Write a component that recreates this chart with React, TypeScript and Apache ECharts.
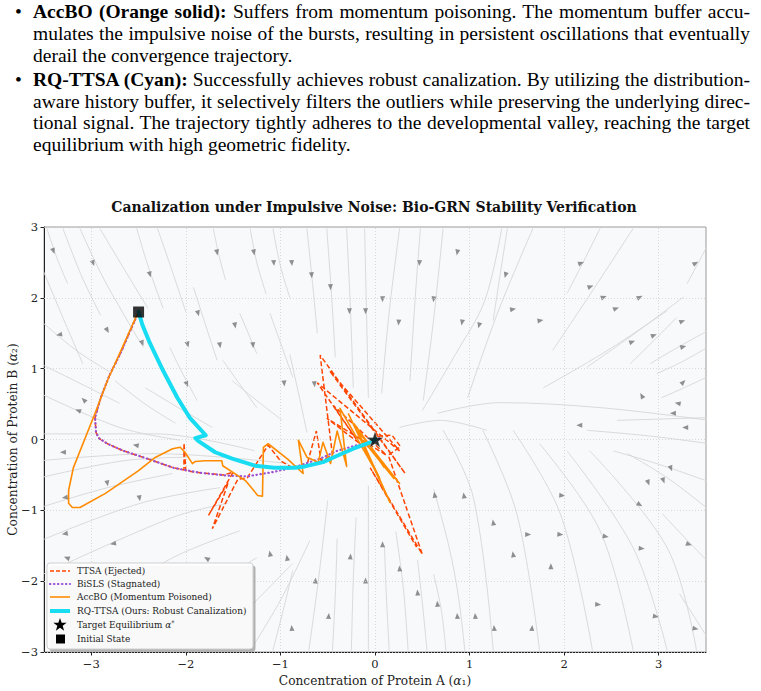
import React, { useEffect, useLayoutEffect, useRef } from "react";
import * as echarts from "echarts";

// ---- axes ----
const X_TICKS = [-3, -2, -1, 0, 1, 2, 3];
const Y_TICKS = [-3, -2, -1, 0, 1, 2, 3];
const X_RANGE = [-3.5, 3.5];
const Y_RANGE = [-3, 3];

// ---- markers ----
const INITIAL_STATE = [-2.5, 1.8];
const TARGET = [0, 0];

// ---- optimiser trajectories (alpha1, alpha2) ----
const TTSA = [
  [-2.5, 1.8], [-2.6, 1.5], [-2.69, 1.22], [-2.81, 0.9], [-2.9, 0.59], [-2.96, 0.31], [-2.95, 0.1],
  [-2.92, 0.02], [-2.83, -0.06], [-2.66, -0.16], [-2.41, -0.27], [-2.13, -0.4], [-2.02, -0.43],
  [-2.02, -0.05], [-2.0, -0.44], [-1.85, -0.47], [-1.6, -0.5], [-1.5, -0.46], [-1.76, -1.07],
  [-1.55, -0.6], [-1.72, -1.26], [-1.45, -0.56], [-1.35, -0.54], [-1.13, -0.08], [-1.0, -0.3],
  [-0.87, -0.4], [-0.72, -0.36], [-0.62, 0.12], [-0.57, -0.3], [-0.45, -0.22], [-0.58, 1.19],
  [0.32, -0.48], [-0.48, 0.97], [0.26, -0.16], [-0.61, 0.8], [-0.19, -0.01], [-0.44, 0.48],
  [0.12, -0.22], [-0.51, 0.3], [-0.1, -0.12], [0.05, 0.05], [0.18, 0.06], [0.27, -0.1],
  [0.14, -0.22], [0.5, -1.62], [-0.05, -0.4], [0.44, -1.52],
];

const BISLS = [
  [-2.5, 1.8], [-2.6, 1.5], [-2.69, 1.22], [-2.81, 0.9], [-2.9, 0.59], [-2.96, 0.31], [-2.95, 0.1],
  [-2.92, 0.02], [-2.83, -0.06], [-2.66, -0.16], [-2.41, -0.27], [-2.13, -0.4], [-1.85, -0.47],
  [-1.56, -0.51], [-1.35, -0.52], [-1.08, -0.46], [-0.87, -0.4], [-0.58, -0.27], [-0.4, -0.16],
  [-0.19, -0.08], [0, 0], [0.08, 0.03],
];

const ACCBO = [
  [-2.5, 1.8], [-2.53, 1.72], [-2.83, 0.83], [-2.96, 0.37], [-3.19, -0.4], [-3.24, -0.72],
  [-3.24, -0.9], [-3.2, -0.96], [-3.12, -0.96], [-2.85, -0.76], [-2.5, -0.44], [-2.32, -0.25],
  [-2.14, -0.13], [-2.06, -0.11], [-2.01, -0.18], [-1.93, -0.34], [-1.9, -0.31], [-1.8, -0.3],
  [-1.62, -0.3], [-1.61, -0.37], [-1.37, -0.58], [-1.24, -0.79], [-1.19, -0.8], [-1.18, -0.11],
  [-1.13, -0.06], [-0.92, -0.28], [-0.76, -0.48], [-0.81, -0.01], [-0.72, -0.25], [-0.6, -0.32],
  [-0.55, -0.04], [-0.47, -0.34], [-0.4, 0.12], [-0.3, -0.38], [-0.37, 0.44], [0.05, -0.55],
  [-0.28, 0.36], [0.16, -0.89], [-0.18, 0.12], [0.26, -0.62], [-0.12, -0.02], [0.2, -0.55],
  [-0.22, 0.22], [0.1, -0.4],
];

const RQ_TTSA = [
  [-2.5, 1.8], [-2.46, 1.62], [-2.38, 1.36], [-2.24, 0.97], [-2.09, 0.59], [-1.96, 0.31],
  [-1.79, 0.06], [-1.9, 0.02], [-1.87, -0.02], [-1.69, -0.18], [-1.51, -0.27], [-1.27, -0.37],
  [-1.06, -0.4], [-0.85, -0.4], [-0.74, -0.38], [-0.55, -0.32], [-0.4, -0.23], [-0.23, -0.13],
  [-0.05, -0.04], [0, 0],
];

// ---- background flow field: streamlines and their direction arrows ----
const STREAMLINES = [
  [[-3.47, 2.98], [-3.36, 2.55], [-3.25, 2.2]],
  [[-3.3, 2.98], [-3.1, 2.3], [-2.9, 1.75]],
  [[-3.12, 2.98], [-2.9, 2.35], [-2.65, 1.75], [-2.45, 1.3]],
  [[-2.91, 2.98], [-2.65, 2.4], [-2.4, 1.85]],
  [[-2.52, 2.98], [-2.4, 2.45], [-2.24, 1.85]],
  [[-2.3, 2.98], [-2.15, 2.4], [-2.0, 1.8]],
  [[-1.92, 2.15], [-1.8, 1.65], [-1.67, 1.12]],
  [[-1.71, 2.98], [-1.65, 2.6], [-1.58, 2.25]],
  [[-1.32, 2.98], [-1.25, 2.5], [-1.15, 2.05]],
  [[-1.08, 2.98], [-1.0, 2.45], [-0.9, 2.0]],
  [[-3.51, 2.39], [-3.3, 1.72], [-3.09, 1.07]],
  [[-3.54, 1.68], [-3.15, 1.25], [-2.8, 0.95]],
  [[-3.54, 1.07], [-3.1, 0.78], [-2.7, 0.51]],
  [[-3.54, 0.65], [-2.7, 0.17], [-2.06, -0.01]],
  [[-3.54, 0.08], [-2.33, 0.08], [-1.27, -0.16]],
  [[-3.54, -0.3], [-2.33, -0.2], [-0.92, -0.34]],
  [[-2.75, 0.83], [-2.43, 0.5], [-2.11, 0.23]],
  [[-2.43, 0.73], [-2.08, 0.45], [-1.72, 0.17]],
  [[-2.17, 1.3], [-2.03, 0.92], [-1.88, 0.55]],
  [[-1.61, 1.12], [-1.43, 0.78], [-1.25, 0.45]],
  [[-1.43, 1.78], [-1.34, 1.5], [-1.25, 1.21]],
  [[-1.11, 1.78], [-0.99, 1.33], [-0.87, 0.88]],
  [[-1.51, 0.83], [-1.25, 0.55], [-0.98, 0.27]],
  [[-0.72, 2.98], [-0.66, 2.2], [-0.61, 1.5]],
  [[-0.51, 2.98], [-0.46, 2.05], [-0.42, 1.16]],
  [[-0.3, 2.98], [-0.26, 1.85], [-0.23, 0.73]],
  [[-0.11, 2.98], [-0.09, 1.8], [-0.07, 0.59]],
  [[0.26, 2.98], [0.15, 1.8], [0.07, 0.65]],
  [[0.48, 2.98], [0.42, 1.9], [0.37, 0.83]],
  [[0.72, 2.98], [0.62, 1.7], [0.51, 0.55]],
  [[-0.9, 1.2], [-0.8, 0.6], [-0.72, 0.1]],
  [[0.5, 0.41], [0.85, 1.2], [1.16, 1.96], [1.34, 2.98]],
  [[0.98, 0.59], [1.3, 1.8], [1.67, 2.98]],
  [[1.4, 2.98], [1.32, 2.3], [1.25, 1.68]],
  [[1.88, 1.26], [2.3, 2.1], [2.73, 2.98]],
  [[2.03, 2.06], [2.2, 2.5], [2.38, 2.98]],
  [[1.78, 0.73], [2.45, 1.25], [3.09, 1.82]],
  [[2.24, 1.02], [2.75, 1.5], [3.26, 2.01]],
  [[3.3, 2.2], [3.4, 2.45], [3.54, 2.8]],
  [[2.7, 1.07], [2.95, 1.4], [3.19, 1.72]],
  [[2.91, 1.07], [3.2, 1.3], [3.54, 1.55]],
  [[2.98, 0.93], [3.25, 1.1], [3.54, 1.32]],
  [[3.03, 0.59], [3.25, 0.72], [3.54, 0.9]],
  [[0.66, 0.37], [1.32, 0.52], [2.38, 0.45], [3.54, 0.27]],
  [[0.26, 0.17], [0.69, 0.27], [1.18, 0.13]],
  [[2.56, 0.27], [3.54, 0.31]],
  [[2.24, 0.13], [2.9, 0.05], [3.54, -0.06]],
  [[2.52, -0.16], [3.0, -0.35], [3.54, -0.6]],
  [[2.67, -0.2], [3.1, -0.55], [3.54, -1.0]],
  [[0.72, 0.13], [1.04, -0.82], [1.25, -2.98]],
  [[1.14, 0.13], [1.5, -1.05], [1.74, -2.98]],
  [[1.46, 0.13], [1.96, -1.05], [2.3, -2.98]],
  [[1.74, -0.06], [2.38, -1.29], [2.73, -2.98]],
  [[2.03, -0.16], [2.73, -1.53], [3.09, -2.98]],
  [[2.27, -0.16], [3.09, -1.53], [3.4, -2.98]],
  [[3.04, -1.05], [3.25, -1.35], [3.54, -1.75]],
  [[3.22, -2.18], [3.35, -2.45], [3.54, -2.85]],
  [[-0.7, -2.98], [-0.6, -2.0], [-0.5, -0.86]],
  [[-0.45, -2.98], [-0.42, -2.2], [-0.4, -1.4]],
  [[-0.25, -2.98], [-0.23, -2.0], [-0.2, -1.1]],
  [[-0.07, -2.98], [-0.07, -1.9], [-0.07, -0.65]],
  [[0.15, -2.98], [0.12, -2.2], [0.1, -1.5]],
  [[0.35, -2.98], [0.3, -2.1], [0.22, -1.3]],
  [[0.55, -2.98], [0.5, -2.3], [0.45, -1.7]],
  [[0.75, -2.98], [0.7, -2.4], [0.62, -1.9]],
  [[0.95, -2.98], [0.88, -2.2], [0.78, -1.5], [0.62, -0.7]],
  [[-1.08, -2.98], [-0.95, -2.3], [-0.87, -1.85]],
  [[-3.54, -0.54], [-2.66, -0.3], [-1.99, -0.25]],
  [[-3.54, -0.96], [-2.83, -0.68], [-2.14, -0.48]],
  [[-3.54, -1.43], [-2.48, -0.9], [-1.64, -0.68]],
  [[-3.54, -1.92], [-2.14, -1.1], [-1.56, -0.9]],
  [[-3.19, -2.51], [-2.14, -1.67], [-1.43, -1.29]],
  [[-2.48, -2.98], [-1.78, -2.13], [-1.25, -1.67]],
  [[-1.78, -2.98], [-1.29, -2.32], [-0.87, -1.75]],
  [[-1.32, -2.98], [-1.0, -2.27], [-0.69, -1.43]],
];

// [alpha1, alpha2, heading in degrees counter-clockwise from "up"]
const FLOW_ARROWS = [
  [-3.4, 2.66, 200], [-2.98, 2.49, 200], [-2.38, 2.33, 195], [-1.67, 2.64, 190], [-1.28, 2.64, 190],
  [-1.07, 2.49, 185], [-0.88, 2.49, 185], [-1.87, 1.78, 195], [-1.48, 1.61, 190], [-2.83, 1.54, 210],
  [-3.34, 1.48, 100], [-2.46, 1.36, 200], [-1.98, 1.34, 195], [-1.64, 1.33, 190], [-1.29, 1.33, 185],
  [-1.99, 0.78, 200], [-0.96, 0.79, 185], [-3.08, 0.56, 45], [-3.14, 0.41, 70], [-2.53, -0.08, 80],
  [-3.3, -0.18, 90], [-2.83, -0.62, 190], [-3.28, -0.82, 100], [-2.49, -0.83, 190],
  [-3.28, -1.33, 100], [-2.77, -1.47, 100], [-3.26, -1.67, 70], [-1.78, -1.68, 60],
  [-1.11, -1.61, 10], [-0.93, -1.67, 10], [-0.88, -2.66, 5],
  [-0.67, 2.32, 185], [-0.47, 2.15, 183], [-0.27, 1.81, 180], [-0.1, 1.81, 180], [0.08, 1.98, 178],
  [0.25, 1.65, 175], [0.47, 2.49, 175], [0.62, 1.98, 172], [0.87, 2.64, 170], [0.92, 1.65, 170],
  [1.1, 1.61, 165], [1.38, 2.32, 165], [1.46, 1.84, -80], [1.75, 1.68, -80], [2.18, 2.49, -70],
  [2.28, 2.16, -70], [2.42, 2.01, -70], [2.55, 1.85, -70], [2.8, 2.01, -65], [3.39, 2.49, -60],
  [3.25, 1.67, -70], [2.95, 1.47, -70], [2.72, 1.38, -70], [3.26, 1.31, -75], [3.26, 0.81, -45],
  [3.2, 0.51, 80], [3.15, 0.37, 90], [3.28, 0.17, 90], [2.82, 0.62, 30], [2.16, 0.2, 90],
  [-0.64, 0.78, 185],
  [3.13, -0.41, 200], [2.89, -0.61, 200], [3.05, -0.58, 200], [2.8, -0.92, 240], [2.82, -1.54, 265],
  [3.32, -1.48, 250], [3.39, -2.67, 260], [2.97, -2.5, 260], [2.36, -2.33, 265], [2.44, -1.37, 260],
  [1.98, -0.79, 265], [1.96, -1.34, 265], [1.62, -1.34, 270], [1.66, -2.66, 355], [1.26, -2.66, 5],
  [1.06, -2.49, 5], [0.87, -2.49, 5], [0.66, -2.32, 5], [0.45, -2.16, 5], [0.26, -1.82, 5],
  [0.08, -1.48, 0], [-0.1, -1.99, 0], [-0.26, -1.65, 355], [-0.49, -2.49, 355], [-0.63, -1.99, 355],
  [0.63, -0.78, 10], [0.94, -0.79, 10], [1.25, -1.17, 10], [1.46, -1.62, 10], [1.86, -1.79, 0],
];

// ---- legend entries ----
const LEGEND_LINES = [
  { label: "TTSA (Ejected)", color: "#ff4500", width: 1.5, dash: [4, 2] },
  { label: "BiSLS (Stagnated)", color: "#9a4fd2", width: 2.2, dash: [0.4, 3.6] },
  { label: "AccBO (Momentum Poisoned)", color: "#ff8c00", width: 1.6, dash: null },
  { label: "RQ-TTSA (Ours: Robust Canalization)", color: "#17dcf2", width: 4, dash: null },
];

// ---- paragraph above the figure ----
const TEXT_LINES = [
  { top: 1, bullet: true, bold: "AccBO (Orange solid):", text: " Suffers from momentum poisoning. The momentum buffer accu-", justify: true },
  { top: 23, text: "mulates the impulsive noise of the bursts, resulting in persistent oscillations that eventually", justify: true },
  { top: 45, text: "derail the convergence trajectory.", justify: false },
  { top: 69, bullet: true, bold: "RQ-TTSA (Cyan):", text: " Successfully achieves robust canalization. By utilizing the distribution-", justify: true },
  { top: 91, text: "aware history buffer, it selectively filters the outliers while preserving the underlying direc-", justify: true },
  { top: 112, text: "tional signal. The trajectory tightly adheres to the developmental valley, reaching the target", justify: true },
  { top: 134, text: "equilibrium with high geometric fidelity.", justify: false },
];

const SERIF = '"DejaVu Serif", serif';
const STAR_PATH =
  "path://M50,2 L61.8,37.6 L99,37.6 L69,59.6 L80.4,95.4 L50,73.4 L19.6,95.4 L31,59.6 L1,37.6 L38.2,37.6 Z";

const GRID = { left: 44, top: 227, width: 662, height: 425 };

function fmtTick(v: number) {
  return v < 0 ? "\u2212" + Math.abs(v) : String(v);
}

function starPoints(cx: number, cy: number, R: number, r: number) {
  const pts: number[][] = [];
  for (let i = 0; i < 10; i++) {
    const rad = i % 2 === 0 ? R : r;
    const a = -Math.PI / 2 + (i * Math.PI) / 5;
    pts.push([cx + rad * Math.cos(a), cy + rad * Math.sin(a)]);
  }
  return pts;
}

function buildLegend() {
  const x0 = 47, y0 = 563, w = 206, h = 86;
  const rowY = [571, 584, 597, 611, 625, 639];
  const FS = 8.9;
  const txt = (text: string, y: number, extra: any = {}) => ({
    type: "text", z: 102, x: 77, y,
    style: { text, fontFamily: SERIF, fontSize: FS, fill: "#222", verticalAlign: "middle", ...extra },
  });
  const els: any[] = [
    { type: "rect", z: 100, shape: { x: x0 + 2.5, y: y0 + 2.5, width: w, height: h, r: 3 }, style: { fill: "rgba(120,120,120,0.55)" } },
    { type: "rect", z: 101, shape: { x: x0, y: y0, width: w, height: h, r: 3 }, style: { fill: "rgba(255,255,255,0.92)", stroke: "#cfcfcf", lineWidth: 1 } },
  ];
  LEGEND_LINES.forEach((it, i) => {
    els.push({
      type: "line", z: 102,
      shape: { x1: 50, y1: rowY[i], x2: 70, y2: rowY[i] },
      style: { stroke: it.color, lineWidth: it.width, lineDash: it.dash || undefined, lineCap: it.dash && it.dash[0] < 2 ? "round" : "butt" },
    });
    els.push(txt(it.label, rowY[i]));
  });
  els.push({ type: "polygon", z: 102, shape: { points: starPoints(60, rowY[4], 7, 2.8) }, style: { fill: "#000" } });
  els.push(
    txt("{n|Target Equilibrium }{a|\u03b1}{s|*}", rowY[4], {
      rich: {
        n: { fontFamily: SERIF, fontSize: FS, fill: "#222", lineHeight: 12 },
        a: { fontFamily: SERIF, fontSize: FS, fontStyle: "italic", fill: "#222", lineHeight: 12 },
        s: { fontFamily: SERIF, fontSize: 6.5, fill: "#222", lineHeight: 12, verticalAlign: "top" },
      },
    })
  );
  els.push({ type: "rect", z: 102, shape: { x: 56, y: rowY[5] - 4.5, width: 9, height: 9 }, style: { fill: "#000" } });
  els.push(txt("Initial State", rowY[5]));
  return els;
}

function buildOption() {
  const streamSeries = STREAMLINES.map((pts) => ({
    type: "line", data: pts, smooth: 0.35, symbol: "none", silent: true, z: 1,
    lineStyle: { color: "#d6d6d6", width: 0.9 },
  }));
  const gridLines = {
    type: "scatter", data: [], silent: true, z: 0,
    markLine: {
      silent: true, symbol: "none", label: { show: false }, animation: false,
      lineStyle: { type: [1, 2], color: "#d0d0d0", width: 0.8 },
      data: [...X_TICKS.map((v) => ({ xAxis: v })), ...Y_TICKS.map((v) => ({ yAxis: v }))],
    },
  };
  const arrows = {
    type: "scatter", silent: true, z: 2, symbol: "triangle", symbolSize: [5, 6],
    itemStyle: { color: "#747474" },
    data: FLOW_ARROWS.map(([x, y, a]) => ({ value: [x, y], symbolRotate: a })),
  };
  const traj = (data: number[][], style: any, z: number) => ({
    type: "line", data, smooth: false, symbol: "none", silent: true, z, lineStyle: style,
  });
  const nameRich = {
    t: { fontFamily: SERIF, fontSize: 12.2, fill: "#222", color: "#222" },
    a: { fontFamily: SERIF, fontSize: 12.2, fontStyle: "italic", fill: "#222", color: "#222" },
  };
  return {
    animation: false,
    grid: {
      ...GRID, containLabel: false, outerBoundsMode: "none",
      show: true, backgroundColor: "#f8f9fb", borderColor: "#9a9a9a", borderWidth: 1,
    },
    xAxis: {
      type: "value", min: X_RANGE[0], max: X_RANGE[1],
      axisLine: { show: true, onZero: false, lineStyle: { color: "#222", width: 1 } },
      axisTick: { show: true, inside: false, length: 3.5, customValues: X_TICKS, lineStyle: { color: "#222" } },
      axisLabel: { customValues: X_TICKS, formatter: fmtTick, fontFamily: SERIF, fontSize: 11.5, color: "#222", margin: 6 },
      splitLine: { show: false },
      name: "{t|Concentration of Protein A (}{a|\u03b1}{t|\u2081)}",
      nameLocation: "middle", nameGap: 22,
      nameTextStyle: { rich: nameRich },
    },
    yAxis: {
      type: "value", min: Y_RANGE[0], max: Y_RANGE[1], interval: 1,
      axisLine: { show: true, onZero: false, lineStyle: { color: "#222", width: 1 } },
      axisTick: { show: true, inside: false, length: 3.5, lineStyle: { color: "#222" } },
      axisLabel: { formatter: fmtTick, fontFamily: SERIF, fontSize: 11.5, color: "#222", margin: 6 },
      splitLine: { show: false },
    },
    graphic: [
      {
        type: "text", z: 100, x: GRID.left + GRID.width / 2 - 1, y: 207,
        style: {
          text: "Canalization under Impulsive Noise: Bio-GRN Stability Verification",
          fontFamily: SERIF, fontWeight: "bold", fontSize: 14, fill: "#111",
          align: "center", verticalAlign: "middle",
        },
      },
      {
        type: "text", z: 100, x: 13, y: GRID.top + GRID.height / 2, rotation: Math.PI / 2,
        style: {
          text: "{t|Concentration of Protein B (}{a|\u03b1}{t|\u2082)}",
          rich: nameRich, align: "center", verticalAlign: "middle",
        },
      },
      ...buildLegend(),
    ],
    series: [
      gridLines,
      ...streamSeries,
      arrows,
      traj(TTSA, { color: "#ff4500", width: 1.5, type: [5, 2.5] }, 3),
      traj(BISLS, { color: "#9a4fd2", width: 2.2, type: [0.4, 3.6], cap: "round" }, 4),
      traj(ACCBO, { color: "#ff8c00", width: 1.6, join: "round" }, 5),
      traj(RQ_TTSA, { color: "#17dcf2", width: 4, join: "round", cap: "round" }, 6),
      {
        type: "scatter", silent: true, z: 8, symbol: STAR_PATH, symbolKeepAspect: true, symbolSize: 17,
        itemStyle: { color: "#000", borderColor: "#ffffff", borderWidth: 0.4 },
        data: [TARGET],
      },
      {
        type: "scatter", silent: true, z: 8, symbol: "rect", symbolSize: 11,
        itemStyle: { color: "#000" },
        data: [INITIAL_STATE],
      },
    ],
  };
}

function TopText() {
  const spans = useRef<(HTMLSpanElement | null)[]>([]);
  useLayoutEffect(() => {
    const fit = () => {
      spans.current.forEach((el, i) => {
        if (!el || !TEXT_LINES[i].justify) return;
        el.style.wordSpacing = "0px";
        const w = el.getBoundingClientRect().width;
        const n = (el.textContent || "").split(" ").length - 1;
        if (n > 0) el.style.wordSpacing = (717 - w) / n + "px";
      });
    };
    fit();
    const fonts = (document as any).fonts;
    if (fonts && fonts.ready) fonts.ready.then(fit);
  }, []);
  const font = '"Liberation Serif", "Times New Roman", serif';
  return (
    <>
      {TEXT_LINES.map((ln, i) => (
        <React.Fragment key={i}>
          {ln.bullet && (
            <div style={{ position: "absolute", left: 15, top: ln.top, fontFamily: font, fontSize: 19.5, lineHeight: "22px", color: "#000" }}>
              •
            </div>
          )}
          <div style={{ position: "absolute", left: 33, top: ln.top, fontFamily: font, fontSize: 19.5, lineHeight: "22px", whiteSpace: "nowrap", color: "#000" }}>
            <span ref={(el) => { spans.current[i] = el; }}>
              {ln.bold && <b>{ln.bold}</b>}
              {ln.text}
            </span>
          </div>
        </React.Fragment>
      ))}
    </>
  );
}

function Chart() {
  const ref = useRef<HTMLDivElement>(null);
  useEffect(() => {
    const chart = echarts.init(ref.current!, null, { renderer: "svg" });
    chart.setOption(buildOption() as any);
    return () => chart.dispose();
  }, []);
  return <div ref={ref} style={{ position: "absolute", left: 0, top: 0, width: 761, height: 691 }} />;
}

export default function App() {
  return (
    <div style={{ position: "fixed", left: 0, top: 0, width: 761, height: 691, background: "#fff", overflow: "hidden" }}>
      <Chart />
      <TopText />
    </div>
  );
}
